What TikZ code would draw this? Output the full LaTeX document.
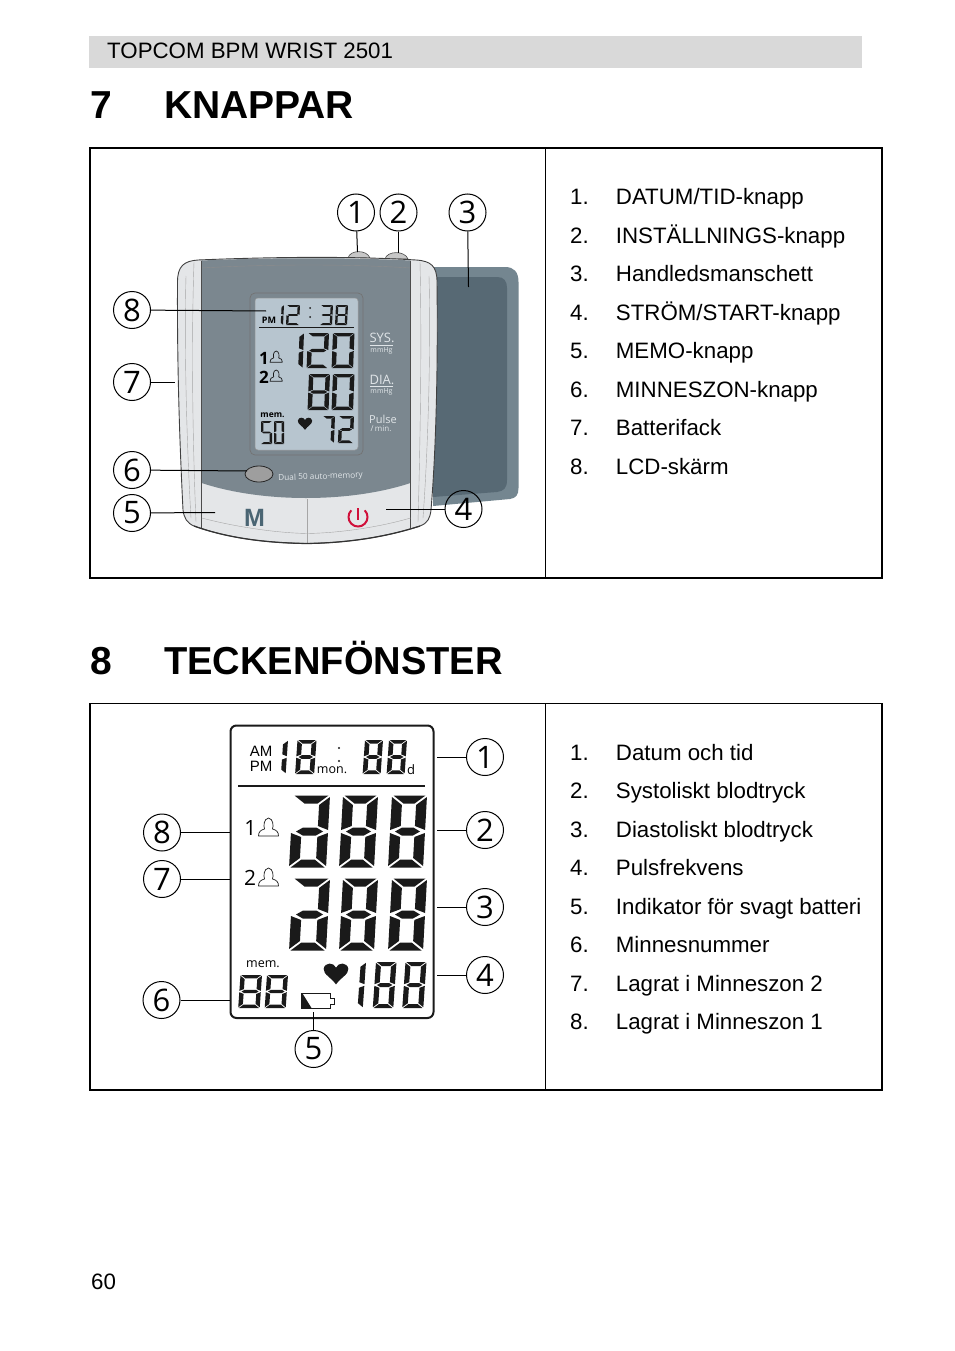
\documentclass[tikz,border=0pt]{standalone}
\usepackage{fontspec}
\setmainfont{Liberation Sans}
\newfontfamily\devfont{Open Sans}
\definecolor{hdr}{HTML}{D9D9D9}
\definecolor{bodyc}{HTML}{E4E6E8}
\definecolor{panelc}{HTML}{7B878F}
\definecolor{lcdc}{HTML}{B7C5CF}
\definecolor{cuffo}{HTML}{748690}
\definecolor{cuffi}{HTML}{576974}
\definecolor{ink}{HTML}{1A1A1A}
\definecolor{lbl}{HTML}{E0E5E8}
\definecolor{powerc}{HTML}{D0103A}
\definecolor{mcol}{HTML}{4A6573}
\newcommand{\fsz}[1]{\fontsize{#1}{#1}\selectfont}
\tikzset{
  x=1pt,y=-1pt,
  txt/.style={anchor=base west,inner sep=0pt,font=\fsz{22.3}},
  head/.style={anchor=base west,inner sep=0pt,font=\bfseries\fsz{39}},
  callout/.style={circle,draw=black,line width=1pt,minimum size=37pt,inner sep=0pt,font=\devfont\fsz{31}},
  conn/.style={draw=black,line width=1pt},
  frameb/.style={draw=black,line width=1.8pt},
  divl/.style={draw=black,line width=.8pt},
  dev/.style={inner sep=0pt,font=\devfont\fsz{#1}},
  devw/.style={inner sep=0pt,text=lbl,font=\devfont\fsz{#1}},
  hair/.style={draw=black!35,line width=.4pt}
}
% seven-segment digit: T horizontal-bar thickness, U vertical-bar width
\newcommand{\sdW}{10}\newcommand{\sdH}{10}\newcommand{\sdT}{2}\newcommand{\sdG}{.5}\newcommand{\sdU}{2}
\def\segA{(\sdG,0) -- (\sdW-\sdG,0) -- (\sdW-\sdG-\sdU,\sdT) -- (\sdG+\sdU,\sdT) -- cycle}
\def\segD{(\sdG,\sdH) -- (\sdW-\sdG,\sdH) -- (\sdW-\sdG-\sdU,\sdH-\sdT) -- (\sdG+\sdU,\sdH-\sdT) -- cycle}
\def\segG{(\sdG+\sdU/3,\sdH/2) -- (\sdG+\sdU,\sdH/2-\sdT/2) -- (\sdW-\sdG-\sdU,\sdH/2-\sdT/2) -- (\sdW-\sdG-\sdU/3,\sdH/2) -- (\sdW-\sdG-\sdU,\sdH/2+\sdT/2) -- (\sdG+\sdU,\sdH/2+\sdT/2) -- cycle}
\def\segF{(0,\sdG) -- (\sdU,\sdG+\sdT) -- (\sdU,\sdH/2-\sdG-\sdT/2) -- (0,\sdH/2-\sdG) -- cycle}
\def\segE{(0,\sdH/2+\sdG) -- (\sdU,\sdH/2+\sdG+\sdT/2) -- (\sdU,\sdH-\sdG-\sdT) -- (0,\sdH-\sdG) -- cycle}
\def\segB{(\sdW,\sdG) -- (\sdW-\sdU,\sdG+\sdT) -- (\sdW-\sdU,\sdH/2-\sdG-\sdT/2) -- (\sdW,\sdH/2-\sdG) -- cycle}
\def\segC{(\sdW,\sdH/2+\sdG) -- (\sdW-\sdU,\sdH/2+\sdG+\sdT/2) -- (\sdW-\sdU,\sdH-\sdG-\sdT) -- (\sdW,\sdH-\sdG) -- cycle}
\def\sdFill#1;{\fill[ink] #1;}
% x y W H T gap slant segments
\newcommand{\sdig}[8]{%
  \begin{scope}[shift={(#1,#2)},xslant=#7]
    \renewcommand{\sdW}{#3}\renewcommand{\sdH}{#4}\renewcommand{\sdT}{#5}\renewcommand{\sdG}{#6}%
    \pgfmathsetmacro{\sdU}{1.3*#5}%
    \foreach \sdS in {#8}{%
      \expandafter\expandafter\expandafter\sdFill\csname seg\sdS\endcsname;%
    }
  \end{scope}}
\newcommand{\personicon}[4]{% x y scale linewidth
  \draw[ink,line width=#4pt,shift={(#1,#2)},scale=#3,line join=round]
    (0,18) .. controls (0,14) and (2,12) .. (6,11)
    .. controls (5,8) and (5,1) .. (10,0) .. controls (15,1) and (15,8) .. (14,11)
    .. controls (18,12) and (20,14) .. (20,18) -- cycle;}
\newcommand{\heartshape}[3]{% x y scale
  \fill[ink,shift={(#1,#2)},scale=#3]
    (0,-3) .. controls (-2,-8) and (-10,-8) .. (-11,-2)
    .. controls (-11.5,3) and (-4,6) .. (0,12)
    .. controls (4,6) and (11.5,3) .. (11,-2)
    .. controls (10,-8) and (2,-8) .. (0,-3) -- cycle;}
\begin{document}
\begin{tikzpicture}
\useasboundingbox (0,0) rectangle (954,1351);
\fill[white] (0,0) rectangle (954,1351);
% header
\fill[hdr] (89,36) rectangle (862,68);
\node[txt] (hdrtext) at (107,58.5) {TOPCOM BPM WRIST 2501};
\node[head] (h7n) at (90,119) {7};
\node[head] (h7t) at (164,119) {KNAPPAR};
\node[head] (h8n) at (90,674.5) {8};
\node[head,xscale=.977] (h8t) at (164,674.5) {TECKENFÖNSTER};
\node[txt] (pageno) at (91,1289) {60};
% frames
\draw[frameb] (90,148) rectangle (882,578);
\draw[divl] (545,148) -- (545,578);
\draw[frameb] (90,703.5) rectangle (882,1090);
\draw[divl] (545,703.5) -- (545,1090);
% lists
\foreach \n/\t/\y in {1/DATUM\slash TID-knapp/204.5,2/INSTÄLLNINGS-knapp/243,3/Handledsmanschett/281.5,4/STRÖM\slash START-knapp/320,5/MEMO-knapp/358.5,6/MINNESZON-knapp/397,7/Batterifack/435.5,8/LCD-skärm/474}{
  \node[txt] at (570,\y) {\n.};
  \node[txt] at (615.7,\y) {\t};
}
\foreach \n/\t/\y in {1/Datum och tid/760,2/Systoliskt blodtryck/798.5,3/Diastoliskt blodtryck/837,4/Pulsfrekvens/875.5,5/Indikator för svagt batteri/914,6/Minnesnummer/952.5,7/Lagrat i Minneszon 2/991,8/Lagrat i Minneszon 1/1029.5}{
  \node[txt] at (570,\y) {\n.};
  \node[txt] at (615.7,\y) {\t};
}
% ---------- device
\fill[cuffo] (433,267) -- (505,267) .. controls (514,267) and (518.5,272) .. (518.5,282) -- (518.5,488) .. controls (518.5,495) and (516,498) .. (510,499) -- (433,506) -- cycle;
\fill[cuffi] (433,277) -- (497,277) .. controls (504,277) and (507,281) .. (507,288) -- (507,480) .. controls (507,488) and (504,491) .. (497,492) -- (433,497) -- cycle;
% buttons
\filldraw[fill=black!22,draw=black!70,line width=.6pt] (348,258) .. controls (350,249.5) and (367,249.5) .. (370,258) -- cycle;
\filldraw[fill=black!22,draw=black!70,line width=.6pt] (385,259) .. controls (387,250.5) and (405,250.5) .. (408,259) -- cycle;
% body
\filldraw[fill=bodyc,draw=black!75,line width=.9pt] (177.5,282) .. controls (177.5,266) and (184,261) .. (198,260)
  .. controls (270,257) and (350,256) .. (416,260) .. controls (431,261) and (437,266) .. (437,282)
  .. controls (438,370) and (436,450) .. (431,510) .. controls (430,518) and (428,523) .. (420,526)
  .. controls (380,539) and (340,543) .. (307,543.5) .. controls (270,543) and (230,539) .. (194,526)
  .. controls (187,523) and (184,518) .. (183,510) .. controls (180,450) and (177,370) .. (177.5,282) -- cycle;
\draw[hair] (186,276) .. controls (184,350) and (187,450) .. (191,518);
\draw[hair] (194,262) .. controls (191,350) and (193,450) .. (196,522);
\draw[hair] (429,276) .. controls (431,350) and (428,450) .. (423,518);
\draw[hair] (420,262) .. controls (422,350) and (420,450) .. (418,522);
% panel
\fill[panelc] (201.7,260.5) .. controls (270,257.5) and (350,257.5) .. (410.5,260.5) -- (410.5,483) .. controls (350,503) and (262,503) .. (201.7,483) -- cycle;
\draw[black!45,line width=.4pt] (201.7,268) .. controls (270,264) and (350,264) .. (410.5,268);
\draw[black!70,line width=.9pt] (201.7,260.5) -- (201.7,528);
\draw[black!70,line width=.9pt] (410.5,260.5) -- (410.5,528);
\draw[black!35,line width=.6pt] (307,499) -- (307,543);
\draw[black!35,line width=.4pt] (201.7,518) .. controls (240,528) and (280,533) .. (307,533.5) .. controls (340,533) and (380,527) .. (410.5,518);
\draw[black!80,line width=1.2pt] (194,526) .. controls (230,539) and (270,543) .. (307,543.5) .. controls (340,543) and (380,539) .. (420,526);
% lcd
\draw[black!55,line width=.7pt,rounded corners=5pt] (250,293) rectangle (363,455);
\filldraw[fill=lcdc,draw=black!40,line width=.5pt,rounded corners=3pt] (255,298) rectangle (358,450);
\fill[ink] (259,326.6) rectangle (354,328.2);
\node[dev={8},font=\devfont\bfseries\fsz{9}] (lpm) at (269,320.5) {PM};
\sdig{280}{305}{4}{20}{1.8}{.3}{.05}{B,C}
\sdig{287}{305}{13}{20}{1.8}{.3}{.05}{A,B,G,E,D}
\fill[ink] (310,308) circle (1); \fill[ink] (310,317) circle (1);
\sdig{321}{305}{12}{20}{1.8}{.3}{.05}{A,B,G,C,D}
\sdig{336}{305}{12}{20}{1.8}{.3}{.05}{A,B,C,D,E,F,G}
\sdig{298}{333}{6}{35}{3.4}{.5}{.04}{B,C}
\sdig{308}{333}{21}{35}{3.4}{.5}{.04}{A,B,G,E,D}
\sdig{333}{333}{21.5}{35}{3.4}{.5}{.04}{A,B,C,D,E,F}
\sdig{309}{374}{21}{36}{3.4}{.5}{.04}{A,B,C,D,E,F,G}
\sdig{333}{374}{21.5}{36}{3.4}{.5}{.04}{A,B,C,D,E,F}
\sdig{323}{416}{12}{27}{2.6}{.4}{.04}{A,B,C}
\sdig{339}{416}{15}{27}{2.6}{.4}{.04}{A,B,G,E,D}
\sdig{261}{421}{11}{23}{1.8}{.3}{0}{A,F,G,C,D}
\sdig{274}{421}{10}{23}{1.8}{.3}{0}{A,B,C,D,E,F}
\node[dev={9},font=\devfont\bfseries\fsz{8.5}] (lmem) at (272.5,414.7) {mem.};
\node[dev={17},font=\devfont\bfseries\fsz{17}] (l1) at (264,358) {1};
\node[dev={17},font=\devfont\bfseries\fsz{17}] (l2) at (264,377) {2};
\personicon{270}{351}{.62}{.7}
\personicon{270}{370}{.62}{.7}
\heartshape{305}{422}{.65}
\node[devw={13}] (lsys) at (382,338) {SYS.};
\draw[lbl,line width=.6pt] (370,345) -- (393,345);
\node[devw={7}] (lsysu) at (381.5,351) {mmHg};
\node[devw={13}] (ldia) at (382,380) {DIA.};
\draw[lbl,line width=.6pt] (370,386.5) -- (393,386.5);
\node[devw={7}] (ldiau) at (381.5,392) {mmHg};
\node[devw={11}] (lpulse) at (383,419) {Pulse};
\node[devw={8}] (lmin) at (381,429) {/\,min.};
\filldraw[fill=black!38,draw=black!85,line width=.8pt] (259,474) ellipse (14 and 8);
\node[devw={8.3},rotate=2] (ldual) at (320.5,477) {Dual 50 auto-memory};
\node[dev={28},text=mcol,font=\bfseries\fsz{25}] (lm) at (254.5,518) {M};
\draw[powerc,line width=2pt] (351.3,510.3) arc[start angle=135,end angle=405,radius=9.5pt];
\draw[powerc,line width=2pt] (358,508) -- (358,520);
% callouts
\node[callout] (a1) at (356,212.5) {1};
\node[callout] (a2) at (398.5,212.5) {2};
\node[callout] (a3) at (467.5,212.5) {3};
\node[callout] (a8) at (132,310) {8};
\node[callout] (a7) at (132,382) {7};
\node[callout] (a6) at (132,470) {6};
\node[callout] (a5) at (132,513) {5};
\node[callout] (a4) at (463.5,509) {4};
\coordinate (e1) at (357.5,252);
\coordinate (e2) at (398.5,253);
\coordinate (e3) at (468.5,287);
\coordinate (e8) at (266,311);
\coordinate (e7) at (175,382);
\coordinate (e6) at (247,471);
\coordinate (e5) at (215,512.5);
\coordinate (e4) at (386,509);
\draw[conn] (a1) -- (e1);
\draw[conn] (a2) -- (e2);
\draw[conn] (a3) -- (e3);
\draw[conn] (a8) -- (e8);
\draw[conn] (a7) -- (e7);
\draw[conn] (a6) -- (e6);
\draw[conn] (a5) -- (e5);
\draw[conn] (a4) -- (e4);
% ---------- section 8 lcd
\draw[ink,line width=2pt,rounded corners=6pt] (230.5,725.5) rectangle (433.5,1018);
\fill[ink] (238,784.8) rectangle (425,787);
\node[dev={15},font=\fsz{15}] (tam) at (261,751) {AM};
\node[dev={15},font=\fsz{15}] (tpm) at (261,766) {PM};
\sdig{282}{740}{6}{34}{3.6}{.8}{.07}{B,C}
\sdig{297.5}{740}{19}{34}{3.6}{.7}{.07}{A,B,C,D,E,F,G}
\node[dev={15},font=\devfont\fsz{12.5}] (tmon) at (332,770) {mon.};
\fill[ink] (339,748) circle (1.1); \fill[ink] (339,761) circle (1.1);
\sdig{365}{740}{18}{34}{3.6}{.7}{.07}{A,B,C,D,E,F,G}
\sdig{389}{740}{18}{34}{3.6}{.7}{.07}{A,B,C,D,E,F,G}
\node[dev={15},font=\devfont\fsz{13}] (td) at (411,770) {d};
% big rows
\foreach \yy in {795.5,878.5}{
  \sdig{293}{\yy}{37}{72}{8}{1.5}{.055}{A,B,C,D,E,G}
  \sdig{343}{\yy}{35}{72}{8}{1.5}{.055}{A,B,C,D,E,F,G}
  \sdig{392}{\yy}{35}{72}{8}{1.5}{.055}{A,B,C,D,E,F,G}
}
\node[dev={20},font=\devfont\fsz{21}] (t1) at (250.5,828) {1};
\node[dev={20},font=\devfont\fsz{21}] (t2) at (250,878) {2};
\personicon{258.5}{818}{1}{.7}
\personicon{258.5}{868}{1}{.7}
\node[dev={14},font=\devfont\fsz{12.5}] (tmem) at (263,964.5) {mem.};
\sdig{240.5}{975}{21.5}{33}{3.4}{.7}{.07}{A,B,C,D,E,F,G}
\sdig{267}{975}{21}{33}{3.4}{.7}{.07}{A,B,C,D,E,F,G}
\heartshape{336}{971}{1.12}
\sdig{360}{962}{6}{46}{4}{.8}{.07}{B,C}
\sdig{376}{962}{20.5}{46}{4}{.8}{.07}{A,B,C,D,E,F,G}
\sdig{405.5}{962}{21}{46}{4}{.8}{.07}{A,B,C,D,E,F,G}
% battery
\draw[ink,line width=.8pt] (301,993.5) -- (330,993.5) -- (330,998) -- (334,998) -- (334,1004) -- (330,1004) -- (330,1008) -- (301,1008) -- cycle;
\fill[ink] (301,993.5) -- (302.5,993.5) -- (311.5,1008) -- (301,1008) -- cycle;
\node[callout] (b1) at (485,757) {1};
\node[callout] (b2) at (485,830) {2};
\node[callout] (b3) at (485,907) {3};
\node[callout] (b4) at (485,975) {4};
\node[callout] (b5) at (313.5,1049) {5};
\node[callout] (b6) at (161.5,1000) {6};
\node[callout] (b7) at (162,879) {7};
\node[callout] (b8) at (162,832.5) {8};
\coordinate (f1) at (437,757);
\coordinate (f2) at (437,830);
\coordinate (f3) at (437,907);
\coordinate (f4) at (437,975);
\coordinate (f5) at (313.5,1012);
\coordinate (f6) at (230,1000);
\coordinate (f7) at (230,879);
\coordinate (f8) at (230,832.5);
\draw[conn] (b1) -- (f1);
\draw[conn] (b2) -- (f2);
\draw[conn] (b3) -- (f3);
\draw[conn] (b4) -- (f4);
\draw[conn] (b5) -- (f5);
\draw[conn] (b6) -- (f6);
\draw[conn] (b7) -- (f7);
\draw[conn] (b8) -- (f8);
\end{tikzpicture}
\end{document}
